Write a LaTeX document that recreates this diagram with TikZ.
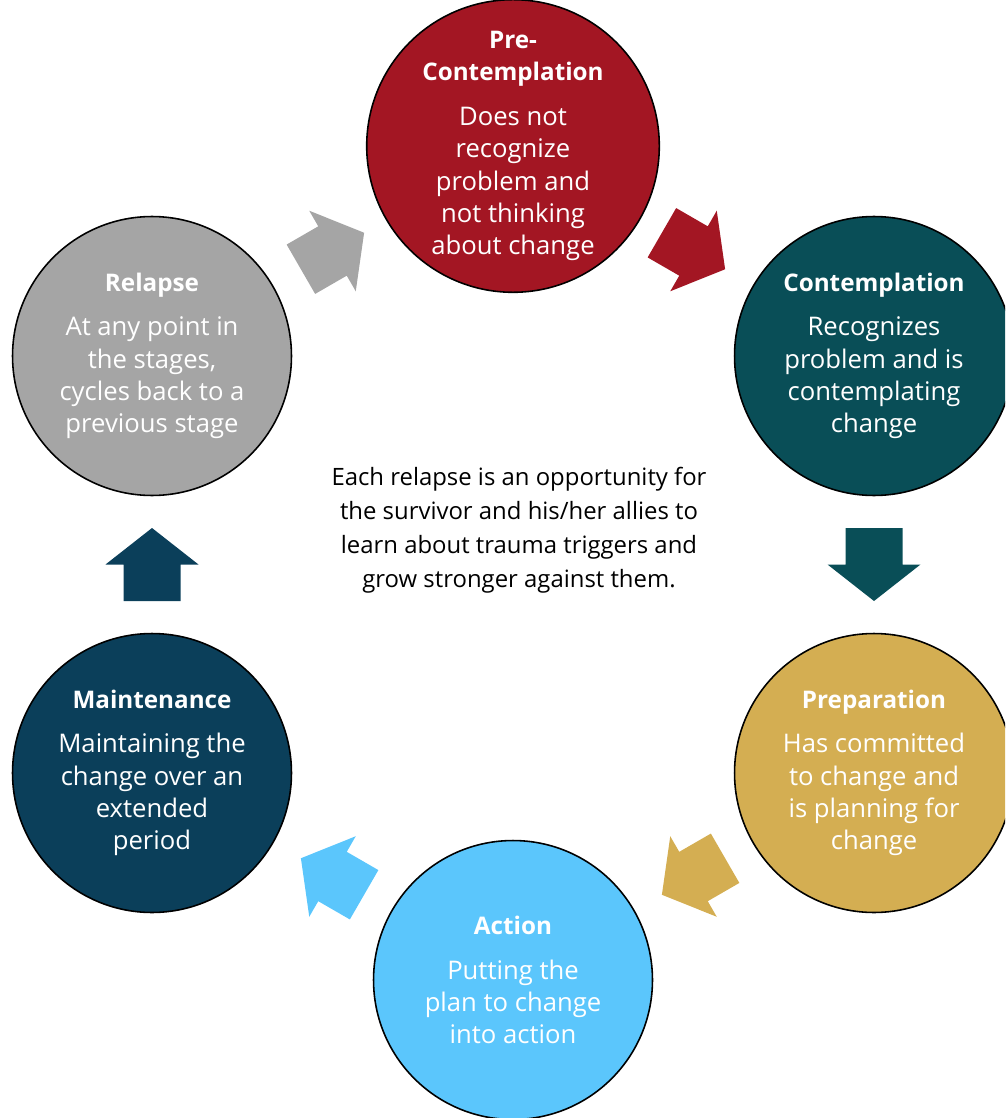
\documentclass[tikz,border=0pt]{standalone}
\usepackage{fontspec}
\setmainfont{Open Sans}
\usetikzlibrary{calc}

\definecolor{precol}{RGB}{163,22,35}
\definecolor{concol}{RGB}{9,78,87}
\definecolor{prepcol}{RGB}{212,174,82}
\definecolor{actcol}{RGB}{91,198,252}
\definecolor{maincol}{RGB}{11,63,90}
\definecolor{relcol}{RGB}{165,165,165}

\newcommand{\stagetitle}[1]{{\fontsize{13.8}{18.4}\selectfont\bfseries #1}}

\tikzset{
    stage/.style={circle, draw=black, line width=0.9pt, minimum size=5.58cm, inner sep=0pt,
        text=white, align=center, font=\fontsize{14.6}{18.4}\selectfont},
    stagearrow/.pic={
        \fill[pic actions] (-36.5,-28.5) -- (0,-28.5) -- (0,-46.5) -- (36.5,0)
            -- (0,46.5) -- (0,28.5) -- (-36.5,28.5) -- cycle;
    }
}

\begin{document}
\begin{tikzpicture}[x=0.02cm, y=0.02cm]
    \useasboundingbox (0,0) rectangle (1005,-1118);
    \clip (0,0) rectangle (1005,-1118);
    % stages of change
    \node[stage, fill=precol] (pre) at (513,-146) {\stagetitle{Pre-}\\\stagetitle{Contemplation}\\[7pt]Does not\\recognize\\problem and\\not thinking\\about change};
    \node[stage, fill=concol] (con) at (874,-356) {\stagetitle{Contemplation}\\[7pt]Recognizes\\problem and is\\contemplating\\change};
    \node[stage, fill=prepcol] (prep) at (874,-773) {\stagetitle{Preparation}\\[7pt]Has committed\\to change and\\is planning for\\change};
    \node[stage, fill=actcol] (act) at (513,-980) {\stagetitle{Action}\\[7pt]Putting the\\plan to change\\into action};
    \node[stage, fill=maincol] (main) at (152,-773) {\stagetitle{Maintenance}\\[7pt]Maintaining the\\change over an\\extended\\period};
    \node[stage, fill=relcol] (rel) at (152,-356) {\stagetitle{Relapse}\\[7pt]At any point in\\the stages,\\cycles back to a\\previous stage};
    % arrows between stages
    \foreach \a/\b/\c/\r in {rel/pre/relcol/30, pre/con/precol/-30, con/prep/concol/-90,
        prep/act/prepcol/-150, act/main/actcol/150, main/rel/maincol/90}
        \pic[fill=\c, rotate=\r] at ($(\a)!0.5!(\b)$) {stagearrow};
    \node[align=center, font=\fontsize{13.6}{19.3}\selectfont] (note) at (519,-530) {Each relapse is an opportunity for\\the survivor and his/her allies to\\learn about trauma triggers and\\grow stronger against them.};
\end{tikzpicture}
\end{document}
